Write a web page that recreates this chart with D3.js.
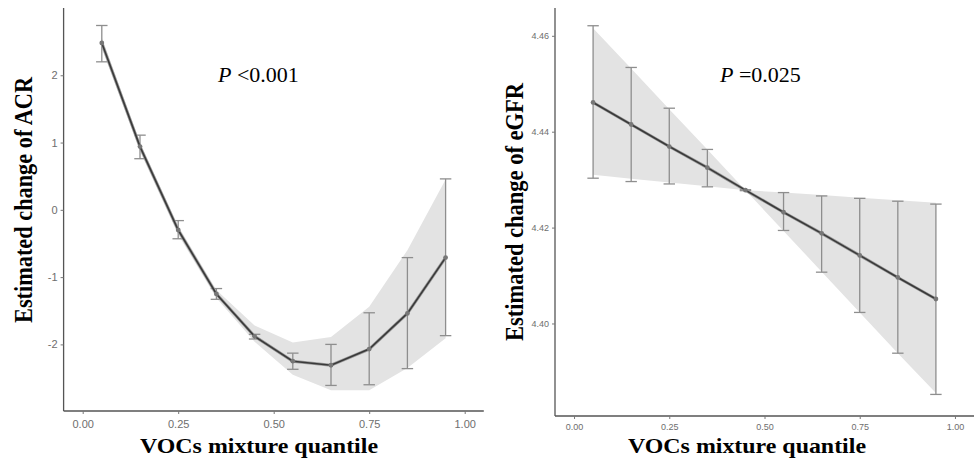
<!DOCTYPE html>
<html>
<head>
<meta charset="utf-8">
<script src="https://cdn.jsdelivr.net/npm/d3@7"></script>
<style>
    body { margin: 0; background: #fff; }
    .tick text { fill: #6e6e6e; font-family: "Liberation Sans", Arial, sans-serif; }
    .axis-title { font-family: "Liberation Serif", "Times New Roman", serif; font-weight: bold; fill: #000; }
    .p-text { font-family: "Liberation Serif", "Times New Roman", serif; fill: #000; }
</style>
</head>
<body>
<div id="chart"></div>
<script>
// quantiles of the VOCs mixture (same for both panels)
var quantiles = [0.05, 0.15, 0.25, 0.35, 0.45, 0.55, 0.65, 0.75, 0.85, 0.95];
var xTicks = [0, 0.25, 0.5, 0.75, 1];

// ACR panel
var acrEst   = [2.48, 0.94, -0.30, -1.25, -1.88, -2.25, -2.31, -2.07, -1.54, -0.71];
var acrLow   = [2.20, 0.76, -0.43, -1.33, -1.92, -2.37, -2.61, -2.60, -2.36, -1.87];
var acrHigh  = [2.74, 1.11, -0.16, -1.17, -1.85, -2.13, -2.00, -1.53, -0.71, 0.46];
var acrBandLow  = [2.40, 0.87, -0.37, -1.31, -1.96, -2.45, -2.68, -2.68, -2.35, -1.91];
var acrBandHigh = [2.56, 1.00, -0.24, -1.19, -1.72, -1.97, -1.89, -1.44, -0.60, 0.45];
var acrYTicks = [-2, -1, 0, 1, 2];

// eGFR panel
var egfrEst  = [4.4461, 4.4415, 4.4369, 4.4325, 4.4278, 4.4232, 4.4188, 4.4142, 4.4096, 4.4051];
var egfrLow  = [4.4303, 4.4296, 4.4291, 4.4285, 4.4277, 4.4194, 4.4107, 4.4023, 4.3938, 4.3852];
var egfrHigh = [4.4621, 4.4534, 4.4449, 4.4363, 4.4279, 4.4273, 4.4266, 4.4261, 4.4255, 4.4249];
var egfrBandLow  = [4.4310, 4.4302, 4.4294, 4.4286, 4.4278, 4.4193, 4.4108, 4.4023, 4.3938, 4.3855];
var egfrBandHigh = [4.4616, 4.4532, 4.4447, 4.4363, 4.4278, 4.4273, 4.4268, 4.4262, 4.4257, 4.4252];
var egfrYTicks = [4.40, 4.42, 4.44, 4.46];

var svg = d3.select("#chart").append("svg")
    .attr("width", 976)
    .attr("height", 460);

function drawPanel(p) {
    var g = svg.append("g");

    var x = d3.scaleLinear().domain([-0.05, 1.05]).range(p.xRange);
    var y = d3.scaleLinear().domain(p.yDomain).range(p.yRange);

    var rows = quantiles.map(function(q, i) {
        return { q: q, est: p.est[i], lo: p.lo[i], hi: p.hi[i], bLo: p.bLo[i], bHi: p.bHi[i] };
    });

    // shaded band
    g.append("path")
        .datum(rows)
        .attr("fill", "#e3e3e3")
        .attr("d", d3.area()
            .x(function(d) { return x(d.q); })
            .y0(function(d) { return y(d.bLo); })
            .y1(function(d) { return y(d.bHi); }));

    // error bars
    var eb = g.append("g").selectAll("g").data(rows).enter().append("g")
        .attr("stroke", "#8e8e8e")
        .attr("stroke-width", 1.3);
    eb.append("line")
        .attr("x1", function(d) { return x(d.q); })
        .attr("x2", function(d) { return x(d.q); })
        .attr("y1", function(d) { return y(d.lo); })
        .attr("y2", function(d) { return y(d.hi); });
    eb.append("line")
        .attr("x1", function(d) { return x(d.q - 0.015); })
        .attr("x2", function(d) { return x(d.q + 0.015); })
        .attr("y1", function(d) { return y(d.lo); })
        .attr("y2", function(d) { return y(d.lo); });
    eb.append("line")
        .attr("x1", function(d) { return x(d.q - 0.015); })
        .attr("x2", function(d) { return x(d.q + 0.015); })
        .attr("y1", function(d) { return y(d.hi); })
        .attr("y2", function(d) { return y(d.hi); });

    // estimate line (gray under, dark on top)
    var line = d3.line()
        .x(function(d) { return x(d.q); })
        .y(function(d) { return y(d.est); });
    g.append("path").datum(rows)
        .attr("fill", "none").attr("stroke", "#9a9a9a").attr("stroke-width", 3)
        .attr("d", line);
    g.append("path").datum(rows)
        .attr("fill", "none").attr("stroke", "#3a3a3a").attr("stroke-width", 1.6)
        .attr("d", line);

    g.append("g").selectAll("circle").data(rows).enter().append("circle")
        .attr("cx", function(d) { return x(d.q); })
        .attr("cy", function(d) { return y(d.est); })
        .attr("r", 2.4)
        .attr("fill", "#777");

    // axes
    var xAxis = g.append("g")
        .attr("transform", "translate(0," + p.yRange[0] + ")")
        .call(d3.axisBottom(x).tickValues(xTicks).tickFormat(d3.format(".2f"))
            .tickSize(3).tickPadding(p.xPad));
    var yAxis = g.append("g")
        .attr("transform", "translate(" + p.xRange[0] + ",0)")
        .call(d3.axisLeft(y).tickValues(p.yTicks).tickFormat(p.yFormat)
            .tickSize(3).tickPadding(3));

    [xAxis, yAxis].forEach(function(a) {
        a.select(".domain").attr("stroke", "#555").attr("stroke-width", 1.3)
            .attr("d", a === xAxis
                ? "M" + p.xRange[0] + ",0H" + p.xRange[1]
                : "M0," + p.yRange[0] + "V" + p.yRange[1]);
        a.selectAll(".tick line").attr("stroke", "#777");
        a.selectAll(".tick text").style("font-size", p.tickFont + "px");
    });

    // titles
    g.append("text")
        .attr("class", "axis-title")
        .attr("x", p.xTitleX)
        .attr("y", 453)
        .attr("text-anchor", "middle")
        .attr("textLength", 238)
        .attr("lengthAdjust", "spacingAndGlyphs")
        .style("font-size", "22px")
        .text("VOCs mixture quantile");

    g.append("text")
        .attr("class", "axis-title")
        .attr("transform", "translate(" + p.yTitleX + "," + p.yTitleY + ") rotate(-90)")
        .attr("text-anchor", "middle")
        .attr("textLength", p.yTitleLen)
        .attr("lengthAdjust", "spacingAndGlyphs")
        .style("font-size", "25px")
        .text(p.yTitle);

    var pt = g.append("text")
        .attr("class", "p-text")
        .attr("x", p.pX)
        .attr("y", 82)
        .style("font-size", "22px");
    pt.append("tspan").style("font-style", "italic").text("P");
    pt.append("tspan").text(" " + p.pText);
}

drawPanel({
    est: acrEst, lo: acrLow, hi: acrHigh, bLo: acrBandLow, bHi: acrBandHigh,
    xRange: [63.6, 483.8], yDomain: [-2.99, 3.0], yRange: [411, 8],
    yTicks: acrYTicks, yFormat: function(d) { return String(d); },
    tickFont: 11, xPad: 6,
    xTitleX: 259, yTitleX: 32, yTitleY: 200, yTitleLen: 246,
    yTitle: "Estimated change of ACR",
    pX: 218, pText: "<0.001"
});

drawPanel({
    est: egfrEst, lo: egfrLow, hi: egfrHigh, bLo: egfrBandLow, bHi: egfrBandHigh,
    xRange: [555, 974], yDomain: [4.3807, 4.4658], yRange: [416, 8],
    yTicks: egfrYTicks, yFormat: d3.format(".2f"),
    tickFont: 9, xPad: 5,
    xTitleX: 747, yTitleX: 523, yTitleY: 212, yTitleLen: 258,
    yTitle: "Estimated change of eGFR",
    pX: 720, pText: "=0.025"
});
</script>
</body>
</html>
